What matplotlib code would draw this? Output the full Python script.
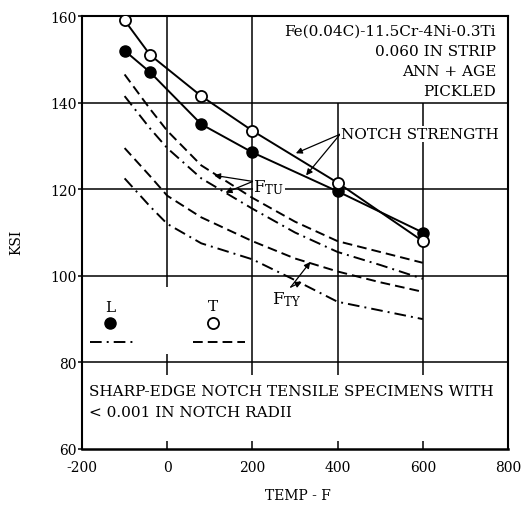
import matplotlib
matplotlib.use("Agg")
import matplotlib.pyplot as plt

plt.rcParams["font.family"] = "DejaVu Serif"
plt.rcParams["mathtext.fontset"] = "dejavuserif"

# ── Data ──────────────────────────────────────────────────────────────────────
notch_temp = [-100, -40, 80, 200, 400, 600]
notch_T = [159, 151, 141.5, 133.5, 121.5, 108]     # open circles
notch_L = [152, 147, 135, 128.5, 119.5, 110]       # filled circles

curve_temp = [-100, -40, 0, 80, 200, 300, 400, 500, 600]
ftu_T = [146.5, 138.5, 133.5, 125.5, 118, 112.5, 108, 105.5, 103]
ftu_L = [141.5, 134, 129.5, 122.5, 115.5, 110, 105.5, 102.5, 99.3]
fty_T = [129.5, 123, 118.5, 113.5, 108, 104, 101, 98.5, 96.3]
fty_L = [122.5, 116, 112, 107.5, 103.8, 99, 94, 92, 90]

x_ticks = [-200, 0, 200, 400, 600, 800]
y_ticks = [60, 80, 100, 120, 140, 160]

# ── Styling ───────────────────────────────────────────────────────────────────
LW = 1.4
DASH = (0, (5, 2.6))
DASHDOT = (0, (6, 2.6, 1, 2.6))
FS = 11

fig = plt.figure(figsize=(5.24, 5.06), dpi=100)
ax = fig.add_axes([82 / 524, 1 - 450 / 506, 426 / 524, 433 / 506])
ax.set_xlim(-200, 800)
ax.set_ylim(60, 160)

# partial grid as in the original
for y in [80, 100, 120, 140]:
    ax.axhline(y, color="black", lw=1.1, zorder=1)
ax.vlines(0, 100, 160, color="black", lw=1.1, zorder=1)
ax.vlines(200, 80, 160, color="black", lw=1.1, zorder=1)
ax.vlines([400, 600], 80, 140, color="black", lw=1.1, zorder=1)
# little tick marks on the grid
ax.vlines([0, 200, 400, 600], 77, 80, color="black", lw=1.1)
ax.vlines(0, 80, 82, color="black", lw=1.1)
ax.vlines(0, 97.5, 100, color="black", lw=1.1)

# curves
ax.plot(curve_temp, ftu_T, color="black", lw=LW, ls=DASH, zorder=2)
ax.plot(curve_temp, ftu_L, color="black", lw=LW, ls=DASHDOT, zorder=2)
ax.plot(curve_temp, fty_T, color="black", lw=LW, ls=DASH, zorder=2)
ax.plot(curve_temp, fty_L, color="black", lw=LW, ls=DASHDOT, zorder=2)

ax.plot(notch_temp, notch_L, color="black", lw=LW, marker="o", ms=8,
        mfc="black", mec="black", zorder=3)
ax.plot(notch_temp, notch_T, color="black", lw=LW, marker="o", ms=8,
        mfc="white", mec="black", mew=1.3, zorder=4)

# ── Annotations ───────────────────────────────────────────────────────────────
info = ["Fe(0.04C)-11.5Cr-4Ni-0.3Ti", "0.060 IN STRIP", "ANN + AGE", "PICKLED"]
for i, line in enumerate(info):
    ax.text(772, 156.6 - i * 4.65, line, ha="right", va="center", fontsize=FS)

arrow = dict(arrowstyle="-|>", lw=0.9, color="black", mutation_scale=9,
             shrinkA=0, shrinkB=0)
ax.text(408, 132.7, "NOTCH STRENGTH", ha="left", va="center", fontsize=FS,
        bbox=dict(fc="white", ec="none", pad=0.5), zorder=5)
ax.annotate("", xy=(302, 128.3), xytext=(406, 132.7), arrowprops=arrow)
ax.annotate("", xy=(326, 123.2), xytext=(406, 132.7), arrowprops=arrow)

ax.text(202, 120.6, r"F$_{\mathrm{TU}}$", ha="left", va="center", fontsize=FS + 1,
        bbox=dict(fc="white", ec="none", pad=0.5), zorder=5)
ax.annotate("", xy=(110, 123.2), xytext=(201, 121.8), arrowprops=arrow)
ax.annotate("", xy=(137, 119.2), xytext=(201, 121.8), arrowprops=arrow)

ax.text(246, 94.8, r"F$_{\mathrm{TY}}$", ha="left", va="center", fontsize=FS + 1,
        zorder=5)
ax.annotate("", xy=(336, 103.2), xytext=(290, 97.4), arrowprops=arrow)
ax.annotate("", xy=(316, 98.6), xytext=(290, 97.4), arrowprops=arrow)

# key
ax.text(0.066, 0.328, "L", transform=ax.transAxes, ha="center", va="center",
        fontsize=FS)
ax.plot([0.066], [0.291], transform=ax.transAxes, marker="o", ms=8,
        color="black", ls="none")
ax.plot([0.019, 0.12], [0.248, 0.248], transform=ax.transAxes, color="black",
        lw=LW, ls=DASHDOT)
ax.text(0.308, 0.331, "T", transform=ax.transAxes, ha="center", va="center",
        fontsize=FS)
ax.plot([0.308], [0.291], transform=ax.transAxes, marker="o", ms=8,
        mfc="white", mec="black", mew=1.3, ls="none")
ax.plot([0.261, 0.383], [0.248, 0.248], transform=ax.transAxes, color="black",
        lw=LW, ls=DASH)

ax.text(0.016, 0.134, "SHARP-EDGE NOTCH TENSILE SPECIMENS WITH",
        transform=ax.transAxes, ha="left", va="center", fontsize=FS)
ax.text(0.016, 0.085, "< 0.001 IN NOTCH RADII",
        transform=ax.transAxes, ha="left", va="center", fontsize=FS)

# ── Axes ──────────────────────────────────────────────────────────────────────
ax.set_xticks(x_ticks)
ax.set_yticks(y_ticks)
ax.set_xticklabels([str(t) for t in x_ticks], fontsize=10)
ax.set_yticklabels([str(t) for t in y_ticks], fontsize=10)
ax.tick_params(axis="x", direction="in", length=6, width=1.1, pad=8)
ax.tick_params(axis="y", direction="out", length=3, width=1.1, pad=1)
for s in ax.spines.values():
    s.set_linewidth(1.5)
ax.spines["bottom"].set_linewidth(1.8)

fig.text(16 / 524, 1 - 242 / 506, "KSI", rotation=90, ha="center", va="center",
         fontsize=10)
fig.text(298 / 524, 1 - 496 / 506, "TEMP - F", ha="center", va="center",
         fontsize=10)

fig.savefig("out.png", dpi=100)
